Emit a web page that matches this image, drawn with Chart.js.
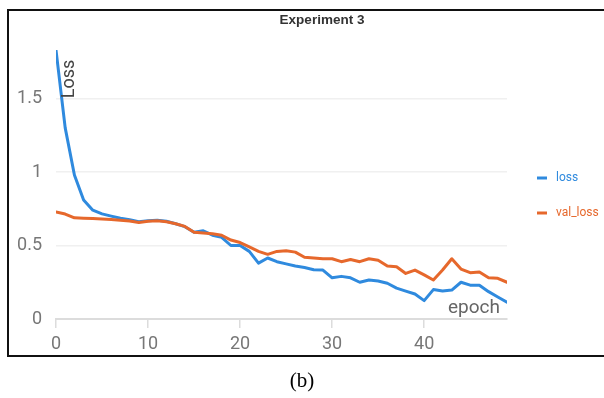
<!DOCTYPE html>
<html>
<head>
<meta charset="utf-8">
<script src="https://cdn.jsdelivr.net/npm/chart.js@4"></script>
<style>
  html, body { margin: 0; padding: 0; background: #fff; }
  body { width: 604px; height: 398px; position: relative; overflow: hidden; }
  #frame { position: absolute; left: 7px; top: 9px; width: 604px; height: 344px; border: 2px solid #111; }
  #wrap { position: absolute; left: 0; top: 0; width: 604px; height: 398px; }
  #caption { position: absolute; left: 0; width: 604px; top: 368px; text-align: center;
             font-family: 'Liberation Serif', 'Times New Roman', serif; font-size: 21px; color: #000; }
</style>
</head>
<body>
<div id="frame"></div>
<div id="wrap"><canvas id="myChart" width="604" height="398"></canvas></div>
<div id="caption">(b)</div>
<script>
Chart.defaults.font.family = "Roboto, Arial, sans-serif";

// --- data ---
var epochs = [];
for (let i = 0; i < 50; i++) epochs.push(i);

var loss = [1.83, 1.30, 0.98, 0.81, 0.74, 0.715, 0.70, 0.685, 0.675, 0.662,
            0.668, 0.672, 0.665, 0.648, 0.628, 0.59, 0.60, 0.57, 0.556, 0.50,
            0.50, 0.46, 0.38, 0.415, 0.39, 0.375, 0.36, 0.35, 0.335, 0.333,
            0.28, 0.29, 0.28, 0.25, 0.265, 0.258, 0.243, 0.21, 0.19, 0.17,
            0.125, 0.20, 0.19, 0.197, 0.25, 0.23, 0.23, 0.186, 0.15, 0.114];

var val_loss = [0.728, 0.714, 0.688, 0.686, 0.683, 0.68, 0.677, 0.672, 0.667, 0.656,
                0.665, 0.668, 0.662, 0.648, 0.63, 0.59, 0.585, 0.58, 0.57, 0.537,
                0.52, 0.49, 0.46, 0.44, 0.46, 0.465, 0.455, 0.42, 0.415, 0.41,
                0.41, 0.39, 0.405, 0.39, 0.41, 0.40, 0.36, 0.356, 0.31, 0.333,
                0.30, 0.265, 0.333, 0.41, 0.34, 0.315, 0.32, 0.28, 0.277, 0.25];

var series_names = ['loss', 'val_loss'];
var series_colors = ['#2f8ade', '#e6682c'];
var x_ticks = [0, 10, 20, 30, 40];
var y_ticks = [0, 0.5, 1, 1.5];
var chart_title = 'Experiment 3';
var y_title = 'Loss';
var x_title = 'epoch';

function toPoints(arr) {
    return arr.map((v, i) => ({x: epochs[i], y: v}));
}

// titles and legend drawn on top
const decorations = {
    id: 'decorations',
    afterDraw(chart) {
        const c = chart.ctx;
        const area = chart.chartArea;
        c.save();
        // title
        c.fillStyle = '#333';
        c.font = "bold 13.5px 'Liberation Sans', Arial, sans-serif";
        c.textAlign = 'center';
        c.textBaseline = 'middle';
        c.fillText(chart_title, 322, 20);
        // y title, inside plot
        c.save();
        c.translate(area.left + 13, area.top + 29);
        c.rotate(-Math.PI / 2);
        c.fillStyle = '#444';
        c.font = "18px Roboto, Arial, sans-serif";
        c.fillText(y_title, 0, 0);
        c.restore();
        // x title, inside plot bottom right
        c.fillStyle = '#666';
        c.font = "19px Roboto, Arial, sans-serif";
        c.textAlign = 'right';
        c.textBaseline = 'alphabetic';
        c.fillText(x_title, area.right - 7, area.bottom - 6);
        // legend
        const ly = [178, 213];
        c.font = "12px Roboto, Arial, sans-serif";
        c.textAlign = 'left';
        c.textBaseline = 'middle';
        series_names.forEach((name, k) => {
            c.strokeStyle = series_colors[k];
            c.lineWidth = 3;
            c.beginPath();
            c.moveTo(537, ly[k]);
            c.lineTo(547, ly[k]);
            c.stroke();
            c.fillStyle = series_colors[k];
            c.fillText(name, 556, ly[k]);
        });
        c.restore();
    }
};

const ctx = document.getElementById('myChart');
new Chart(ctx, {
    type: 'line',
    data: {
        datasets: series_names.map((name, k) => ({
            label: name,
            data: toPoints(k === 0 ? loss : val_loss),
            borderColor: series_colors[k],
            backgroundColor: series_colors[k],
            borderWidth: 3,
            pointRadius: 0,
            tension: 0,
            borderCapStyle: 'round',
            borderJoinStyle: 'round',
            order: 1 - k
        }))
    },
    options: {
        responsive: false,
        animation: false,
        layout: { padding: { left: 0, top: 50, right: 97, bottom: 0 } },
        plugins: {
            legend: { display: false },
            tooltip: { enabled: false }
        },
        scales: {
            x: {
                type: 'linear',
                min: 0,
                max: 49,
                afterBuildTicks: (s) => { s.ticks = x_ticks.map(v => ({value: v})); },
                afterFit: (s) => { s.height = 79; },
                grid: { drawOnChartArea: false, color: '#dcdcdc', tickLength: 9, lineWidth: 1.5 },
                border: { color: '#dcdcdc', width: 2 },
                ticks: { color: '#777', font: { size: 18 }, padding: 6, maxRotation: 0 }
            },
            y: {
                min: 0,
                max: 1.83,
                afterBuildTicks: (s) => { s.ticks = y_ticks.map(v => ({value: v})); },
                afterFit: (s) => { s.width = 56; },
                grid: {
                    drawTicks: false,
                    color: (c) => c.tick && c.tick.value === 0 ? 'rgba(0,0,0,0)' : '#f0f0f0',
                    lineWidth: 1.5
                },
                border: { display: false },
                ticks: { color: '#777', font: { size: 18 }, padding: 14,
                         callback: (v) => String(v) }
            }
        }
    },
    plugins: [decorations]
});
</script>
</body>
</html>
